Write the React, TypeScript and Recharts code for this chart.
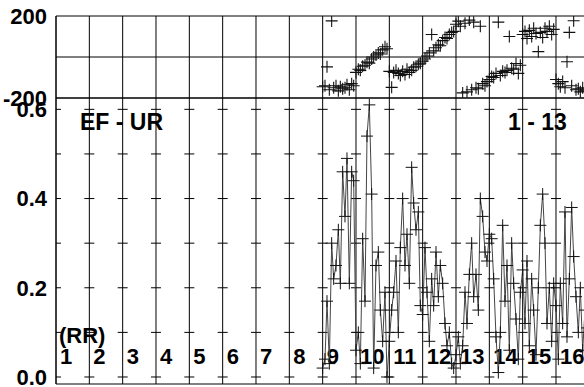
import React from 'react';
import { ComposedChart, Scatter, Line, XAxis, YAxis, ReferenceLine } from 'recharts';

// Frequency (in the plot's x units) of each estimate
const freq = [
  9.0, 9.07, 9.13, 9.2, 9.27, 9.33, 9.4, 9.47, 9.53, 9.6, 9.67, 9.73, 9.8, 9.87, 9.93,
  10.0, 10.07, 10.13, 10.2, 10.27, 10.33, 10.4, 10.47, 10.53, 10.6, 10.67, 10.73, 10.8, 10.87, 10.93,
  11.0, 11.07, 11.13, 11.2, 11.27, 11.33, 11.4, 11.47, 11.53, 11.6, 11.67, 11.73, 11.8, 11.87, 11.93,
  12.0, 12.07, 12.13, 12.2, 12.27, 12.33, 12.4, 12.47, 12.53, 12.6, 12.67, 12.73, 12.8, 12.87, 12.93,
  13.0, 13.07, 13.13, 13.2, 13.27, 13.33, 13.4, 13.47, 13.53, 13.6, 13.67, 13.73, 13.8, 13.87, 13.93,
  14.0, 14.07, 14.13, 14.2, 14.27, 14.33, 14.4, 14.47, 14.53, 14.6, 14.67, 14.73, 14.8, 14.87, 14.93,
  15.0, 15.07, 15.13, 15.2, 15.27, 15.33, 15.4, 15.47, 15.53, 15.6, 15.67, 15.73, 15.8, 15.87, 15.93,
  16.0, 16.07, 16.13, 16.2, 16.27, 16.33, 16.4, 16.47, 16.53, 16.6, 16.67, 16.73, 16.8, 16.87, 16.93,
];

// Coherence (lower panel)
const coherence = [
  0.02, 0.04, 0.17, 0.03, 0.30, 0.22, 0.25, 0.33, 0.21, 0.46, 0.36, 0.49, 0.21, 0.46, 0.44,
  0.06, 0.10, 0.03, 0.31, 0.17, 0.54, 0.61, 0.41, 0.02, 0.25, 0.28, 0.15, 0.08, 0.19, 0.00,
  0.08, 0.15, 0.19, 0.26, 0.10, 0.29, 0.40, 0.25, 0.32, 0.21, 0.47, 0.39, 0.33, 0.37, 0.16,
  0.14, 0.29, 0.19, 0.08, 0.22, 0.16, 0.28, 0.18, 0.25, 0.21, 0.12, 0.07, 0.10, 0.03, 0.02,
  0.05, 0.09, 0.03, 0.07, 0.19, 0.12, 0.23, 0.30, 0.18, 0.23, 0.15, 0.40, 0.36, 0.28, 0.26,
  0.32, 0.31, 0.22, 0.09, 0.01, 0.10, 0.34, 0.17, 0.25, 0.06, 0.30, 0.21, 0.13, 0.04, 0.19,
  0.24, 0.12, 0.26, 0.07, 0.22, 0.15, 0.05, 0.20, 0.34, 0.41, 0.30, 0.12, 0.20, 0.08, 0.21,
  0.16, 0.04, 0.21, 0.12, 0.37, 0.09, 0.22, 0.38, 0.27, 0.18, 0.10, 0.20, 0.06, 0.15, 0.11,
];

// Phase in degrees (upper panel)
const phase = [
  -145, -140, -48, -160, 176, -150, -140, -165, -145, -155, -150, -135, -160, -130, -140,
  -75, -60, -65, -45, -40, -25, -30, -10, 0, 10, 20, 15, 35, 50, 40,
  -70, -148, -75, -65, -80, -90, -70, -85, -60, -75, -65, -50, -45, -35, -30,
  -20, -10, 5, 20, 110, 30, 45, 60, 55, 80, 95, 90, 110, 120, 125,
  160, 175, 150, -175, 165, -170, 180, -160, 170, -150, -155, 150, -130, -140, -120,
  -110, -95, -100, -80, 170, -90, -70, -75, -65, 100, -55, -60, -32, -80, -40,
  110, 125, 90, 130, 100, 140, 115, 26, 120, 95, 140, 125, 150, 110, 135,
  -110, -130, -145, -120, -150, -23, 120, -140, 177, -160, -155, -170, -150, -165, -160,
];

const xMajor = [1, 2, 3, 4, 5, 6, 7, 8, 9, 10, 11, 12, 13, 14, 15, 16, 17];
const freqLabels = [1, 2, 3, 4, 5, 6, 7, 8, 9, 10, 11, 12, 13, 14, 15, 16];
const phaseTicks = [-200, 200];
const cohTicks = [0, 0.2, 0.4, 0.6];
const cohGrid = [0, 0.1, 0.2, 0.3, 0.4, 0.5, 0.6];

const minorTicks = xMajor.flatMap((k) => (k < 17 ? [k, k + 1 / 3, k + 2 / 3] : [k]));

const data = freq.map((f, i) => ({ f, c: coherence[i], p: phase[i] }));

const FONT = '"Liberation Sans", Arial, Helvetica, sans-serif';
const W = 600;
const PLOT_W = 533.333;
const LEFT = 56;
const RIGHT = W - LEFT - PLOT_W;
const X_DOMAIN: [number, number] = [1, 17];

const tickStyle = { fill: '#000', fontSize: 22, fontWeight: 700, fontFamily: FONT };

const plusPath = (cx: number, cy: number) =>
  `M${cx - 6},${cy}H${cx + 6}M${cx},${cy - 6}V${cy + 6}`;

const ScatterPlus = (props: any) => {
  const { cx, cy } = props;
  if (cx == null || cy == null) return <g />;
  return <path d={plusPath(cx, cy)} stroke="#111" strokeWidth={1.1} fill="none" />;
};

const renderDot = (props: any) => {
  const { cx, cy, index } = props;
  if (cx == null || cy == null) return <g key={`d${index}`} />;
  return <path key={`d${index}`} d={plusPath(cx, cy)} stroke="#111" strokeWidth={1} fill="none" />;
};

const freqLabel = (k: number) => (props: any) => {
  const vb = props.viewBox || {};
  return (
    <text
      x={(vb.x ?? 0) + 4}
      y={(vb.y ?? 0) + (vb.height ?? 0) - 20}
      fill="#000"
      fontSize={22}
      fontWeight={700}
      fontFamily={FONT}
    >
      {k}
    </text>
  );
};

export default function App() {
  return (
    <div
      style={{
        position: 'fixed',
        left: 0,
        top: 0,
        width: 584,
        height: 387,
        overflow: 'hidden',
        background: '#fff',
      }}
    >
      {/* Lower panel: coherence */}
      <div style={{ position: 'absolute', left: 0, top: 0 }}>
        <ComposedChart width={W} height={387} data={data} margin={{ top: 97, right: RIGHT, bottom: 3, left: 0 }}>
          <XAxis
            xAxisId="t"
            dataKey="f"
            type="number"
            domain={X_DOMAIN}
            allowDataOverflow
            orientation="top"
            ticks={minorTicks}
            interval={0}
            tick={false}
            tickSize={4}
            height={1}
            axisLine={{ stroke: '#000' }}
            tickLine={{ stroke: '#000' }}
          />
          <XAxis
            xAxisId="b"
            dataKey="f"
            type="number"
            domain={X_DOMAIN}
            allowDataOverflow
            orientation="bottom"
            mirror
            ticks={minorTicks}
            interval={0}
            tick={false}
            tickSize={4}
            height={1}
            axisLine={{ stroke: '#000' }}
            tickLine={{ stroke: '#000' }}
          />
          <YAxis
            type="number"
            domain={[-0.0157, 0.6254]}
            allowDataOverflow
            ticks={cohTicks}
            interval={0}
            width={LEFT}
            tickSize={0}
            tickMargin={9}
            tickLine={false}
            axisLine={{ stroke: '#000' }}
            tick={tickStyle}
            tickFormatter={(v: number) => v.toFixed(1)}
          />
          {cohGrid.map((v) => (
            <ReferenceLine
              key={`h${v}`}
              xAxisId="b"
              y={v}
              stroke="#000"
              strokeWidth={1}
              strokeDasharray="5 23.333 5 0"
            />
          ))}
          {xMajor.map((k) => (
            <ReferenceLine
              key={`v${k}`}
              xAxisId="b"
              x={k}
              stroke="#000"
              strokeWidth={1}
              label={k <= 16 ? freqLabel(freqLabels[k - 1]) : undefined}
            />
          ))}
          <Line
            xAxisId="b"
            dataKey="c"
            type="linear"
            stroke="#444"
            strokeWidth={1}
            dot={renderDot}
            activeDot={false}
            isAnimationActive={false}
          />
        </ComposedChart>
      </div>

      {/* Upper panel: phase */}
      <div style={{ position: 'absolute', left: 0, top: 0 }}>
        <ComposedChart width={W} height={110} data={data} margin={{ top: 16, right: RIGHT, bottom: 11, left: 0 }}>
          <XAxis
            xAxisId="t"
            dataKey="f"
            type="number"
            domain={X_DOMAIN}
            allowDataOverflow
            orientation="top"
            mirror
            ticks={minorTicks}
            interval={0}
            tick={false}
            tickSize={4}
            height={1}
            axisLine={{ stroke: '#000' }}
            tickLine={{ stroke: '#000' }}
          />
          <XAxis
            xAxisId="b"
            dataKey="f"
            type="number"
            domain={X_DOMAIN}
            allowDataOverflow
            orientation="bottom"
            ticks={minorTicks}
            interval={0}
            tick={false}
            tickSize={4}
            height={1}
            axisLine={{ stroke: '#000' }}
            tickLine={{ stroke: '#000' }}
          />
          <YAxis
            type="number"
            domain={[-200, 200]}
            allowDataOverflow
            ticks={phaseTicks}
            interval={0}
            width={LEFT}
            tickSize={0}
            tickMargin={9}
            tickLine={false}
            axisLine={{ stroke: '#000' }}
            tick={tickStyle}
          />
          <ReferenceLine xAxisId="b" y={0} stroke="#000" strokeWidth={1} />
          {xMajor.map((k) => (
            <ReferenceLine key={`pv${k}`} xAxisId="b" x={k} stroke="#000" strokeWidth={1} />
          ))}
          <Scatter xAxisId="b" dataKey="p" shape={ScatterPlus} isAnimationActive={false} />
        </ComposedChart>
      </div>

      {/* Free text annotations */}
      <svg
        width={584}
        height={387}
        style={{ position: 'absolute', left: 0, top: 0, pointerEvents: 'none' }}
      >
        <text x={80} y={130} fill="#000" fontSize={23} fontWeight={700} fontFamily={FONT}>
          EF - UR
        </text>
        <text x={508} y={130} fill="#000" fontSize={23} fontWeight={700} fontFamily={FONT}>
          1 - 13
        </text>
        <text x={59} y={343} fill="#000" fontSize={22} fontWeight={700} fontFamily={FONT}>
          (RR)
        </text>
      </svg>
    </div>
  );
}
